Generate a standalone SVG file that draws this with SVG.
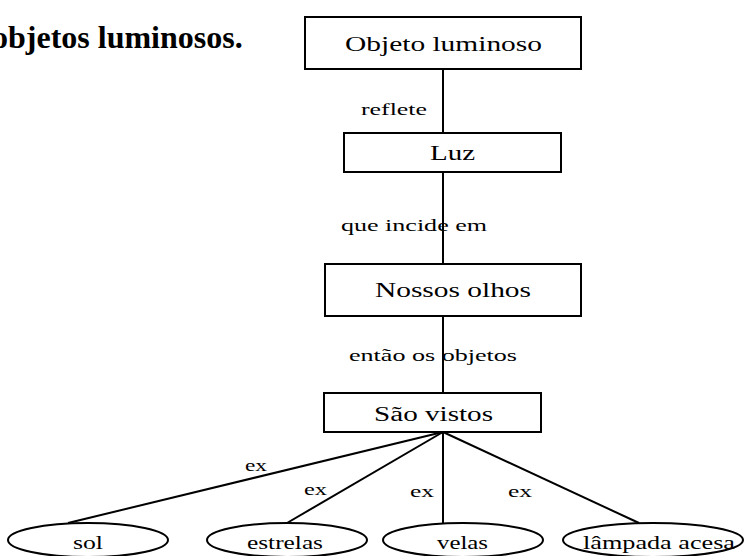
<svg xmlns="http://www.w3.org/2000/svg" width="747" height="556" viewBox="0 0 747 556">
<style>
text{font-family:"Liberation Serif","Times New Roman",serif;fill:#000}
.node{font-size:20px}
.lbl{font-size:17px}
.ell{font-size:19px}
.box{fill:#fff;stroke:#000;stroke-width:2}
.el{fill:#fff;stroke:#000;stroke-width:2}
.conn line{stroke:#000;stroke-width:2}
</style>
<rect width="747" height="556" fill="#fff"/>
<text x="-8" y="48" font-size="32" font-weight="bold">objetos luminosos.</text>
<g class="conn" id="connectors">
<line x1="443" y1="69" x2="443" y2="133"/>
<line x1="443" y1="172" x2="443" y2="264"/>
<line x1="443" y1="316" x2="443" y2="393"/>
<line x1="443" y1="432" x2="68" y2="523"/>
<line x1="443" y1="432" x2="287" y2="523"/>
<line x1="443" y1="432" x2="443" y2="523"/>
<line x1="443" y1="432" x2="639" y2="523"/>
</g>
<g id="labels">
<text class="lbl" x="361" y="115" textLength="66" lengthAdjust="spacingAndGlyphs">reflete</text>
<text class="lbl" x="341" y="231" textLength="146" lengthAdjust="spacingAndGlyphs">que incide em</text>
<text class="lbl" x="349" y="361" textLength="168" lengthAdjust="spacingAndGlyphs">então os objetos</text>
<text class="lbl" x="245" y="471" textLength="22" lengthAdjust="spacingAndGlyphs">ex</text>
<text class="lbl" x="304" y="495" textLength="23" lengthAdjust="spacingAndGlyphs">ex</text>
<text class="lbl" x="410" y="497" textLength="24" lengthAdjust="spacingAndGlyphs">ex</text>
<text class="lbl" x="508" y="497" textLength="24" lengthAdjust="spacingAndGlyphs">ex</text>
</g>
<g id="objeto-luminoso">
<rect class="box" x="305" y="17" width="276" height="52"/>
<text class="node" x="345" y="51" textLength="197" lengthAdjust="spacingAndGlyphs">Objeto luminoso</text>
</g>
<g id="luz">
<rect class="box" x="344" y="133" width="217" height="39"/>
<text class="node" x="430" y="160" textLength="45" lengthAdjust="spacingAndGlyphs">Luz</text>
</g>
<g id="nossos-olhos">
<rect class="box" x="325" y="264" width="256" height="52"/>
<text class="node" x="375" y="297" textLength="156" lengthAdjust="spacingAndGlyphs">Nossos olhos</text>
</g>
<g id="sao-vistos">
<rect class="box" x="324" y="393" width="217" height="39"/>
<text class="node" x="374" y="421" textLength="119" lengthAdjust="spacingAndGlyphs">São vistos</text>
</g>
<g id="sol">
<ellipse class="el" cx="88" cy="540" rx="80" ry="17"/>
<text class="ell" x="73" y="549" textLength="30" lengthAdjust="spacingAndGlyphs">sol</text>
</g>
<g id="estrelas">
<ellipse class="el" cx="287" cy="540" rx="80" ry="17"/>
<text class="ell" x="247" y="549" textLength="76" lengthAdjust="spacingAndGlyphs">estrelas</text>
</g>
<g id="velas">
<ellipse class="el" cx="463" cy="540" rx="80" ry="17"/>
<text class="ell" x="437" y="549" textLength="51" lengthAdjust="spacingAndGlyphs">velas</text>
</g>
<g id="lampada-acesa">
<ellipse class="el" cx="653" cy="540" rx="90" ry="17"/>
<text class="ell" x="583" y="549" textLength="152" lengthAdjust="spacingAndGlyphs">lâmpada acesa</text>
</g>
</svg>
